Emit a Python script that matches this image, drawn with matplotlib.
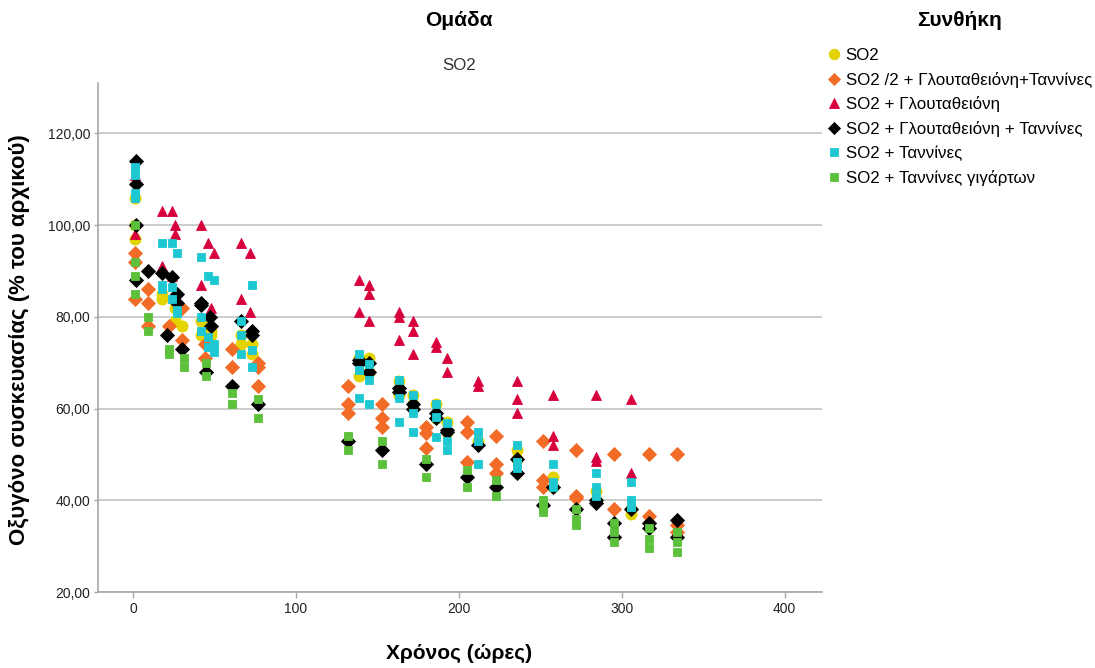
import numpy as np
import matplotlib
matplotlib.use("Agg")
import matplotlib.pyplot as plt
from matplotlib.ticker import FuncFormatter

plt.rcParams['font.family'] = ['Liberation Sans', 'DejaVu Sans']

# Οξυγόνο (% του αρχικού) ανά ώρα, για κάθε συνθήκη
so2_t = [1, 1, 1, 18, 18, 26, 26, 30, 42, 42, 48, 48, 66, 66, 73, 73,
         139, 139, 145, 145, 163, 163, 172, 172, 186, 186, 193, 193, 212,
         236, 236, 258, 258, 284, 284, 306, 306]
so2_v = [106, 100, 97, 85, 84, 82, 79, 78, 79, 76, 77, 76, 76, 74, 74, 72,
         71, 67, 71, 68, 66, 63, 63, 61, 61, 58, 57, 55, 53,
         51, 49, 45, 43, 42, 40, 38, 37]

half_t = [1, 1, 1, 9, 9, 9, 22, 30, 30, 44, 44, 61, 61, 77, 77, 77,
          132, 132, 132, 153, 153, 153, 180, 180, 180, 205, 205, 205,
          223, 223, 223, 252, 252, 252, 272, 272, 272, 295, 295, 295,
          317, 317, 317, 334, 334, 334]
half_v = [94, 92, 84, 86, 83, 78, 78, 82, 75, 74, 71, 73, 69, 70, 69, 65,
          65, 61, 59, 61, 58, 56, 56, 54.6, 51.3, 57, 55, 48.4,
          54, 48, 46, 53, 44.4, 43, 51, 41, 40.4, 50, 38, 32,
          50, 36.6, 35, 50, 34.6, 33]

glut_t = [1, 1, 18, 18, 24, 24, 26, 26, 42, 42, 46, 48, 50, 66, 66, 72, 72,
          139, 139, 145, 145, 145, 163, 163, 163, 172, 172, 172, 186, 186,
          193, 193, 212, 212, 236, 236, 236, 258, 258, 258, 284, 284, 284,
          306, 306]
glut_v = [111, 98, 103, 91, 103, 89, 100, 98, 100, 87, 96, 82, 94, 96, 84, 94, 81,
          88, 81, 87, 85, 79, 81, 80, 75, 79, 77, 72, 74.5, 73.5,
          71, 68, 66, 65, 66, 62, 59, 63, 54, 52, 63, 49.5, 48.5,
          62, 46]

glut_tan_t = [2, 2, 2, 2, 9, 18, 21, 24, 27, 27, 30, 42, 42, 45, 47, 48, 61, 66,
              73, 73, 77, 132, 139, 139, 145, 145, 153, 163, 163, 172, 172,
              180, 186, 186, 193, 193, 205, 212, 223, 236, 236, 252, 258, 272,
              284, 284, 295, 295, 306, 317, 317, 334, 334]
glut_tan_v = [114, 109, 100, 88, 90, 89.5, 76, 88.6, 85, 83, 73, 83, 82.5, 68, 80, 78, 65, 79,
              77, 76, 61, 53, 70.5, 70, 70, 68, 51, 64.5, 63.6, 61, 60,
              48, 59, 58, 55.3, 55, 45, 52, 43, 49, 46, 39, 43, 38,
              40, 39.4, 35, 32, 38, 35, 34, 35.7, 32]

tan_t = [1, 1, 1, 1, 18, 18, 18, 24, 24, 24, 27, 27, 27, 42, 42, 42,
         46, 46, 46, 50, 50, 50, 66, 66, 66, 73, 73, 73,
         139, 139, 139, 145, 145, 145, 163, 163, 163, 172, 172, 172,
         186, 186, 186, 193, 193, 193, 212, 212, 212, 236, 236, 236,
         258, 258, 258, 284, 284, 284, 306, 306, 306]
tan_v = [112.6, 111, 107, 106, 96, 87, 86, 96, 86.6, 84, 94, 81.4, 80.8, 93, 80, 77,
         89, 75.6, 73.4, 88, 74, 72.4, 79, 76, 72, 87, 72.7, 69,
         72, 68.4, 62.2, 69.8, 66.2, 61, 66.2, 62.2, 57, 63, 59, 55,
         61, 58.2, 53.8, 56.8, 53, 51, 55, 53, 48, 52, 48.4, 47,
         48, 44, 43, 46, 43, 41, 44, 40, 38.6]

seed_t = [1, 1, 1, 1, 9, 9, 22, 22, 31, 31, 45, 45, 61, 61, 77, 77,
          132, 132, 153, 153, 180, 180, 205, 205, 223, 223,
          252, 252, 252, 272, 272, 272, 295, 295, 295, 317, 317, 317,
          334, 334, 334]
seed_v = [100, 92, 89, 85, 80, 77, 73, 72, 71, 69, 70, 67, 63.4, 61, 62, 58,
          54, 51, 53, 48, 49, 45, 46.6, 43, 44.4, 41,
          40, 38.5, 37.5, 38, 36, 34.6, 35, 33, 31, 34, 31.5, 29.6,
          33, 31, 28.7]

labels = ["SO2", "SO2 /2 + Γλουταθειόνη+Ταννίνες", "SO2 + Γλουταθειόνη",
          "SO2 + Γλουταθειόνη + Ταννίνες", "SO2 + Ταννίνες",
          "SO2 + Ταννίνες γιγάρτων"]

series = [
    (so2_t, so2_v, 'o', '#e3d400', 8),
    (half_t, half_v, 'D', '#f26c28', 6.8),
    (glut_t, glut_v, '^', '#d8003c', 7.5),
    (glut_tan_t, glut_tan_v, 'D', '#000000', 6.8),
    (tan_t, tan_v, 's', '#1ec8d2', 6.2),
    (seed_t, seed_v, 's', '#5cc13a', 6.2),
]

fig = plt.figure(figsize=(10.95, 6.68), dpi=100)
ax = fig.add_axes([98 / 1095, 1 - 592 / 668, (822 - 98) / 1095, (592 - 83) / 668])

for (t, v, m, c, ms), lab in zip(series, labels):
    ax.plot(t, v, linestyle='none', marker=m, color=c, markersize=ms,
            markeredgewidth=0.6, markeredgecolor=c, label=lab)

ax.set_xlim(-21.5, 423)
ax.set_ylim(20, 131)
ax.set_xticks([0, 100, 200, 300, 400])
ax.set_yticks([20, 40, 60, 80, 100, 120])
ax.yaxis.set_major_formatter(FuncFormatter(lambda y, _: f"{y:.2f}".replace('.', ',')))
ax.grid(axis='y', color='#c8c8c8', linewidth=1.3)
ax.set_axisbelow(True)
for s in ['top', 'right']:
    ax.spines[s].set_visible(False)
for s in ['left', 'bottom']:
    ax.spines[s].set_color('#a8a8a8')
    ax.spines[s].set_linewidth(1.2)
ax.tick_params(axis='both', colors='#a8a8a8', labelcolor='#222222',
               labelsize=10, length=4, width=1)
ax.tick_params(axis='y', length=3, pad=2.5)

fig.text(459 / 1095, 1 - 20 / 668, "Ομάδα", ha='center', va='center',
         fontsize=15, fontweight='bold')
fig.text(459 / 1095, 1 - 66 / 668, "SO2", ha='center', va='center',
         fontsize=12.2, color='#333333')
fig.text(960 / 1095, 1 - 20 / 668, "Συνθήκη", ha='center', va='center',
         fontsize=15, fontweight='bold')
fig.text(459 / 1095, 1 - 653 / 668, "Χρόνος (ώρες)", ha='center', va='center',
         fontsize=15, fontweight='bold')
fig.text(20 / 1095, 1 - 340 / 668, "Οξυγόνο συσκευασίας (% του αρχικού)",
         ha='center', va='center', rotation=90, fontsize=16, fontweight='bold')

fig.legend(loc='upper left', bbox_to_anchor=(821 / 1095, 1 - 41 / 668),
           frameon=False, fontsize=12.2, handlelength=0.75, handletextpad=0.3,
           labelspacing=0.52, borderaxespad=0, markerscale=0.95)

fig.savefig("out.png", dpi=100)
